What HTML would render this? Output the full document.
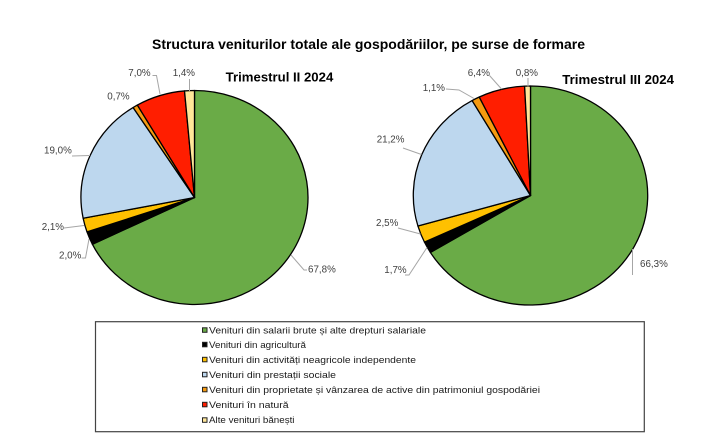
<!DOCTYPE html>
<html>
<head>
<meta charset="utf-8">
<style>
  html, body { margin:0; padding:0; background:#fff; }
  svg { display:block; }
</style>
</head>
<body>
<svg width="710" height="439" viewBox="0 0 710 439" xmlns="http://www.w3.org/2000/svg">
  <rect width="710" height="439" fill="#ffffff"/>

  <!-- Title -->
  <text x="152" y="49" font-family="Liberation Sans, Arial, sans-serif" font-weight="bold" font-size="14" fill="#000" textLength="433" lengthAdjust="spacingAndGlyphs">Structura veniturilor totale ale gospodăriilor, pe surse de formare</text>

  <!-- Left pie -->
  <g stroke="#000" stroke-width="1.3" stroke-linejoin="round">
    <path d="M194.5 197.5 L194.5 90.5 A113.5 107 0 1 1 92.42 244.27 Z" fill="#6aab47"/>
    <path d="M194.5 197.5 L92.42 244.27 A113.5 107 0 0 1 87.00 231.85 Z" fill="#000000"/>
    <path d="M194.5 197.5 L87.00 231.85 A113.5 107 0 0 1 83.14 218.21 Z" fill="#ffc000"/>
    <path d="M194.5 197.5 L83.14 218.21 A113.5 107 0 0 1 133.09 107.51 Z" fill="#bdd7ee"/>
    <path d="M194.5 197.5 L133.09 107.51 A113.5 107 0 0 1 137.34 105.06 Z" fill="#f59a10"/>
    <path d="M194.5 197.5 L137.34 105.06 A113.5 107 0 0 1 184.53 90.92 Z" fill="#ff1e00"/>
    <path d="M194.5 197.5 L184.53 90.92 A113.5 107 0 0 1 194.5 90.5 Z" fill="#ffe699"/>
  </g>

  <!-- Left leader lines -->
  <g stroke="#a6a6a6" stroke-width="1" fill="none">
    <polyline points="152.5,75.5 156.5,75.5 160,94"/>
    <polyline points="189.5,79 189.5,91"/>
    <polyline points="72,156 90,155.5"/>
    <polyline points="64,228 84,225.5"/>
    <polyline points="81.5,258 85.5,258 89,239"/>
    <polyline points="291,255 304,270 307,270"/>
  </g>

  <!-- Left labels -->
  <g font-family="Liberation Sans, Arial, sans-serif" font-size="9.8" fill="#404040">
    <text x="128.3" y="76">7,0%</text>
    <text x="172.7" y="76">1,4%</text>
    <text x="107.3" y="99.5">0,7%</text>
    <text x="44" y="153.5">19,0%</text>
    <text x="41.7" y="230">2,1%</text>
    <text x="59" y="258.5">2,0%</text>
    <text x="308" y="272.5">67,8%</text>
  </g>
  <text x="225.7" y="81.7" font-family="Liberation Sans, Arial, sans-serif" font-weight="bold" font-size="13" fill="#000" textLength="107.6" lengthAdjust="spacingAndGlyphs">Trimestrul  II 2024</text>

  <!-- Right pie -->
  <g stroke="#000" stroke-width="1.3" stroke-linejoin="round">
    <path d="M530.5 195.5 L530.5 86 A117.2 109.5 0 1 1 430.38 252.43 Z" fill="#6aab47"/>
    <path d="M530.5 195.5 L430.38 252.43 A117.2 109.5 0 0 1 424.46 242.13 Z" fill="#000000"/>
    <path d="M530.5 195.5 L424.46 242.13 A117.2 109.5 0 0 1 417.95 226.05 Z" fill="#ffc000"/>
    <path d="M530.5 195.5 L417.95 226.05 A117.2 109.5 0 0 1 472.11 100.55 Z" fill="#bdd7ee"/>
    <path d="M530.5 195.5 L472.11 100.55 A117.2 109.5 0 0 1 479.27 97.02 Z" fill="#f59a10"/>
    <path d="M530.5 195.5 L479.27 97.02 A117.2 109.5 0 0 1 524.61 86.14 Z" fill="#ff1e00"/>
    <path d="M530.5 195.5 L524.61 86.14 A117.2 109.5 0 0 1 530.5 86 Z" fill="#ffe699"/>
  </g>

  <!-- Right leader lines -->
  <g stroke="#a6a6a6" stroke-width="1" fill="none">
    <polyline points="489.5,75.5 501.5,89"/>
    <polyline points="528,78 528,86.5"/>
    <polyline points="446,89 459,90 474,98.5"/>
    <polyline points="403,148 421.5,154.5"/>
    <polyline points="398,228 420.5,234"/>
    <polyline points="405,275 409,275 427,247.5"/>
    <polyline points="632.5,249 632.5,275"/>
  </g>

  <!-- Right labels -->
  <g font-family="Liberation Sans, Arial, sans-serif" font-size="9.8" fill="#404040">
    <text x="467.7" y="76">6,4%</text>
    <text x="515.7" y="76">0,8%</text>
    <text x="422.7" y="91">1,1%</text>
    <text x="376.7" y="142.5">21,2%</text>
    <text x="376" y="226">2,5%</text>
    <text x="384.3" y="273">1,7%</text>
    <text x="640" y="267">66,3%</text>
  </g>
  <text x="562.3" y="84" font-family="Liberation Sans, Arial, sans-serif" font-weight="bold" font-size="13" fill="#000" textLength="111.7" lengthAdjust="spacingAndGlyphs">Trimestrul  III 2024</text>

  <!-- Legend box -->
  <rect x="95.5" y="321.7" width="548.8" height="110" fill="#fff" stroke="#444" stroke-width="1.2"/>

  <!-- Legend markers -->
  <g stroke="#222" stroke-width="1">
    <rect x="202.5" y="327.8" width="4.5" height="4.5" fill="#6aab47"/>
    <rect x="202.5" y="342.3" width="4.5" height="4.5" fill="#000"/>
    <rect x="202.5" y="357.3" width="4.5" height="4.5" fill="#ffc000"/>
    <rect x="202.5" y="372.3" width="4.5" height="4.5" fill="#bdd7ee"/>
    <rect x="202.5" y="387.3" width="4.5" height="4.5" fill="#f59a10"/>
    <rect x="202.5" y="402.3" width="4.5" height="4.5" fill="#ff1e00"/>
    <rect x="202.5" y="417.8" width="4.5" height="4.5" fill="#ffe699"/>
  </g>

  <!-- Legend text -->
  <g font-family="Liberation Sans, Arial, sans-serif" font-size="9.5" fill="#1a1a1a">
    <text x="209" y="333.3" textLength="217" lengthAdjust="spacingAndGlyphs">Venituri  din salarii brute și alte drepturi salariale</text>
    <text x="209" y="347.8" textLength="97" lengthAdjust="spacingAndGlyphs">Venituri  din agricultură</text>
    <text x="209" y="362.8" textLength="207" lengthAdjust="spacingAndGlyphs">Venituri  din activități  neagricole independente</text>
    <text x="209" y="377.8" textLength="127" lengthAdjust="spacingAndGlyphs">Venituri  din prestații sociale</text>
    <text x="209" y="392.8" textLength="331" lengthAdjust="spacingAndGlyphs">Venituri  din proprietate  și vânzarea de active din patrimoniul gospodăriei</text>
    <text x="209" y="407.8" textLength="79.6" lengthAdjust="spacingAndGlyphs">Venituri în natură</text>
    <text x="209" y="423" textLength="85.5" lengthAdjust="spacingAndGlyphs">Alte venituri  bănești</text>
  </g>
</svg>
</body>
</html>
